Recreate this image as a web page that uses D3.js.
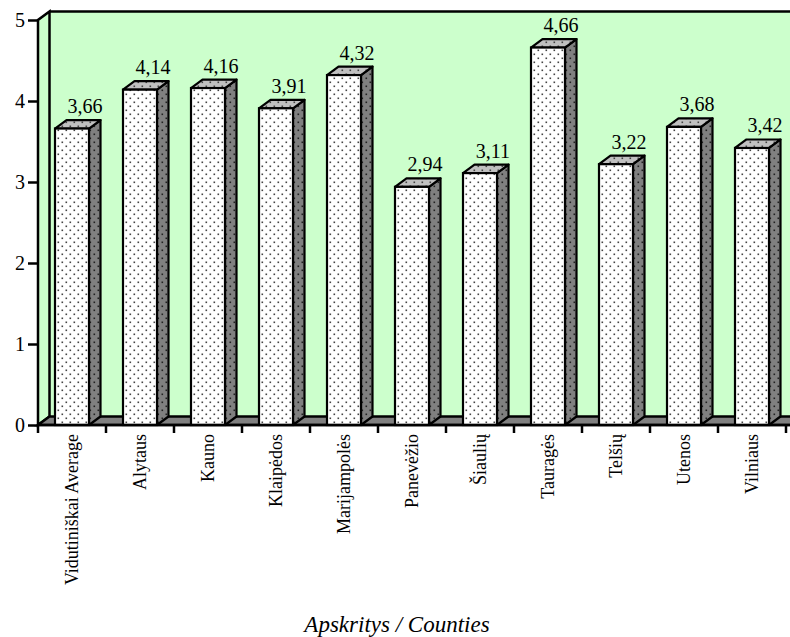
<!DOCTYPE html>
<html><head><meta charset="utf-8">
<script src="https://cdn.jsdelivr.net/npm/d3@7"></script>
<style>body{margin:0;background:#fff}svg{display:block}text{font-family:"Liberation Serif","Times New Roman",serif;fill:#000}</style>
</head><body>
<svg id="c" width="790" height="637"></svg>
<script>
const categories = ["Vidutiniškai Average","Alytaus","Kauno","Klaipėdos","Marijampolės","Panevėžio","Šiaulių","Tauragės","Telšių","Utenos","Vilniaus"];
const values = [3.66,4.14,4.16,3.91,4.32,2.94,3.11,4.66,3.22,3.68,3.42];
const valueLabels = ["3,66","4,14","4,16","3,91","4,32","2,94","3,11","4,66","3,22","3,68","3,42"];
const yTicks = [0,1,2,3,4,5];
const axisTitle = "Apskritys / Counties";

const svg = d3.select("#c");
const x0 = 38, x1 = 786, yBase = 425, yTop = 20;
const dx = 11.5, dy = 8.5;
const x = d3.scaleBand().domain(categories).range([x0, x1]).paddingInner(0.5).paddingOuter(0.25);
const y = d3.scaleLinear().domain([0,5]).range([yBase, yTop]);

// patterns
const defs = svg.append("defs");
function pat(id, bg, dot){
  const p = defs.append("pattern").attr("id", id).attr("patternUnits","userSpaceOnUse").attr("width",8).attr("height",8);
  p.append("rect").attr("width",8).attr("height",8).attr("fill",bg);
  p.append("rect").attr("x",1.5).attr("y",1.5).attr("width",1.6).attr("height",1.6).attr("fill",dot);
  p.append("rect").attr("x",5.5).attr("y",5.5).attr("width",1.6).attr("height",1.6).attr("fill",dot);
}
pat("pFront","#ffffff","#444");
pat("pSide","#808080","#222");
pat("pTop","#c0c0c0","#444");

const green = "#ccffcc";
const W = 790;
// back wall
svg.append("rect").attr("x", x0+dx).attr("y", yTop-dy).attr("width", W - (x0+dx) + 5).attr("height", (yBase-dy)-(yTop-dy)).attr("fill", green);
// left wall
svg.append("polygon").attr("points", [[x0,yBase],[x0,yTop],[x0+dx,yTop-dy],[x0+dx,yBase-dy]].map(p=>p.join(",")).join(" "))
  .attr("fill", green).attr("stroke","#000").attr("stroke-width",2.5).attr("stroke-linejoin","miter");
// back wall top line
svg.append("line").attr("x1", x0+dx).attr("x2", W+5).attr("y1", yTop-dy).attr("y2", yTop-dy).attr("stroke","#000").attr("stroke-width",2.5);
// floor
svg.append("polygon").attr("points", [[x0,yBase],[x0+dx,yBase-dy],[W+20,yBase-dy],[W+20,yBase]].map(p=>p.join(",")).join(" "))
  .attr("fill","#808080").attr("stroke","#000").attr("stroke-width",2.5);

// bars
const bw = x.bandwidth();
const g = svg.append("g");
categories.forEach((c,i)=>{
  const xl = x(c), xr = xl + bw, yt = y(values[i]), yb = y(0);
  const bg = g.append("g");
  bg.append("polygon").attr("points", [[xr,yb],[xr+dx,yb-dy],[xr+dx,yt-dy],[xr,yt]].map(p=>p.join(",")).join(" "))
    .attr("fill","url(#pSide)").attr("stroke","#000").attr("stroke-width",2.2).attr("stroke-linejoin","round");
  bg.append("polygon").attr("points", [[xl,yt],[xl+dx,yt-dy],[xr+dx,yt-dy],[xr,yt]].map(p=>p.join(",")).join(" "))
    .attr("fill","url(#pTop)").attr("stroke","#000").attr("stroke-width",2.2).attr("stroke-linejoin","round");
  bg.append("rect").attr("x",xl).attr("y",yt).attr("width",bw).attr("height",yb-yt)
    .attr("fill","url(#pFront)").attr("stroke","#000").attr("stroke-width",2.2);
  bg.append("text").attr("x", xl + bw/2 + 13).attr("y", yt - dy - 7).attr("text-anchor","middle")
    .style("font-size","20px").text(valueLabels[i]);
});

// y axis
const yAxis = d3.axisLeft(y).tickValues(yTicks).tickFormat(d3.format("d")).tickSize(10).tickPadding(3);
const ya = svg.append("g").attr("transform",`translate(${x0},0)`).call(yAxis);
ya.select(".domain").remove();
ya.selectAll(".tick line").attr("stroke","#000").attr("stroke-width",2.5);
ya.selectAll(".tick text").style("font-size","20px").style("font-family","Liberation Serif, serif").attr("fill","#000");

// x axis baseline & ticks
svg.append("line").attr("x1",x0).attr("x2",W+5).attr("y1",yBase).attr("y2",yBase).attr("stroke","#000").attr("stroke-width",2.5);
const boundaries = d3.range(categories.length+1).map(i => x0 + i*x.step());
svg.selectAll(".xt").data(boundaries).join("line").attr("x1",d=>d).attr("x2",d=>d).attr("y1",yBase).attr("y2",yBase+8)
  .attr("stroke","#000").attr("stroke-width",2.5);
svg.selectAll(".xl").data(categories).join("text")
  .attr("transform", d => `translate(${x(d)+bw/2+6},${yBase+9}) rotate(-90)`)
  .attr("text-anchor","end").style("font-size","18px").text(d=>d);

svg.append("text").attr("x", 397).attr("y", 632).attr("text-anchor","middle")
  .style("font-size","23px").style("font-style","italic").text(axisTitle);
</script>
</body></html>
